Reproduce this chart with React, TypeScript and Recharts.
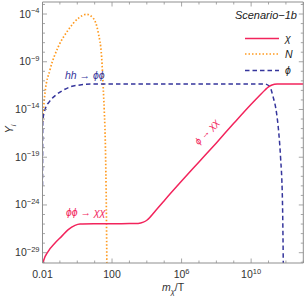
import React from 'react';
import { ComposedChart, Line, XAxis, YAxis } from 'recharts';

const W = 307;
const H = 296;
const FONT = '"Liberation Sans", Arial, sans-serif';
const FRAME = '#8f8f8f';
const LABEL = '#333333';
const RED = '#f2245c';
const ORANGE = '#ff9a1f';
const BLUE = '#35359c';

// chi (solid red): log10(m/T), log10(Y)
const chiLogX = [-2, -1.95, -1.67, -1.28, -0.9, -0.52, -0.13, 0.16, 1, 2, 3, 3.5, 3.8, 4.0, 4.2, 4.5, 5, 6, 7, 8, 9, 10, 10.5, 10.8, 11, 11.2, 11.5, 12, 13];
const chiLogY = [-30.3, -29.9, -28.86, -27.99, -27.29, -26.59, -26.14, -26.0, -25.97, -25.96, -25.95, -25.93, -25.8, -25.6, -25.25, -24.6, -23.55, -21.5, -19.5, -17.5, -15.45, -13.45, -12.5, -11.95, -11.62, -11.43, -11.34, -11.32, -11.32];

// N (orange dotted)
const nLogX = [-2, -1.86, -1.57, -1.09, -0.52, 0.06, 0.54, 0.92, 1.21, 1.4, 1.49, 1.55, 1.62, 1.67, 1.71];
const nLogY = [-15.3, -12.3, -9.86, -7.42, -5.67, -4.45, -4.03, -4.45, -6.0, -8.5, -11.6, -14.0, -18, -24, -32];

// phi (blue dashed)
const phiLogX = [-2, -1.985, -1.86, -1.57, -1.22, -0.88, -0.42, 0.16, 0.84, 2, 6, 10, 10.79, 11.07, 11.26, 11.46, 11.59, 11.69, 11.8, 11.86];
const phiLogY = [-22, -15.2, -14.04, -13.1, -12.47, -12.05, -11.64, -11.43, -11.33, -11.32, -11.32, -11.32, -11.33, -11.6, -12.65, -14.36, -16.45, -18.96, -23.5, -32];

const xTickExps = [-2, -1, 0, 1, 2, 3, 4, 5, 6, 7, 8, 9, 10, 11, 12, 13];
const xLabelExps = [-2, 2, 6, 10];
const yTickExps = [-30, -29, -28, -27, -26, -25, -24, -23, -22, -21, -20, -19, -18, -17, -16, -15, -14, -13, -12, -11, -10, -9, -8, -7, -6, -5, -4, -3];
const yLabelExps = [-29, -24, -19, -14, -9, -4];

const xDomainExp = [-2, 13];
const yDomainExp = [-30.08, -2.74];

const toData = (lx: number[], ly: number[]) => lx.map((v, i) => ({ x: Math.pow(10, v), y: Math.pow(10, ly[i]) }));
const chiData = toData(chiLogX, chiLogY);
const nData = toData(nLogX, nLogY);
const phiData = toData(phiLogX, phiLogY);

const xTicks = xTickExps.map((e) => Math.pow(10, e));
const yTicks = yTickExps.map((e) => Math.pow(10, e));
const xDomain = xDomainExp.map((e) => Math.pow(10, e));
const yDomain = yDomainExp.map((e) => Math.pow(10, e));

const ex = (v: number) => Math.round(Math.log10(v));
const minus = (e: number) => (e < 0 ? '\u2212' + Math.abs(e) : String(e));

const PowText = ({ x, y, e, anchor }: any) => (
  <text x={x} y={y} textAnchor={anchor} fill={LABEL} fontFamily={FONT} fontSize={10.5}>
    <tspan>10</tspan>
    <tspan dy={-4.5} fontSize={7.5}>{minus(e)}</tspan>
  </text>
);

const XTickBottom = (p: any) => {
  const { x, y, payload } = p;
  const e = ex(payload.value);
  const major = xLabelExps.includes(e);
  let label: any = null;
  if (major) {
    if (e === -2 || e === 2) {
      label = (
        <text x={x} y={y + 15} textAnchor="middle" fill={LABEL} fontFamily={FONT} fontSize={10.5}>
          {e === -2 ? '0.01' : '100'}
        </text>
      );
    } else {
      label = <PowText x={x} y={y + 15} e={e} anchor="middle" />;
    }
  }
  return (
    <g>
      <line x1={x} x2={x} y1={y} y2={y - (major ? 4.5 : 2.5)} stroke={FRAME} strokeWidth={0.8} />
      {label}
    </g>
  );
};

const XTickTop = (p: any) => {
  const { x, y, payload } = p;
  const major = xLabelExps.includes(ex(payload.value));
  return <line x1={x} x2={x} y1={y} y2={y + (major ? 4.5 : 2.5)} stroke={FRAME} strokeWidth={0.8} />;
};

const YTickLeft = (p: any) => {
  const { x, y, payload } = p;
  const e = ex(payload.value);
  const major = yLabelExps.includes(e);
  return (
    <g>
      <line x1={x} x2={x + (major ? 4.5 : 2.5)} y1={y} y2={y} stroke={FRAME} strokeWidth={0.8} />
      {major ? <PowText x={x - 3} y={y + 3.5} e={e} anchor="end" /> : null}
    </g>
  );
};

const YTickRight = (p: any) => {
  const { x, y, payload } = p;
  const major = yLabelExps.includes(ex(payload.value));
  return <line x1={x} x2={x - (major ? 4.5 : 2.5)} y1={y} y2={y} stroke={FRAME} strokeWidth={0.8} />;
};

const legendItems = [
  { name: '\u03C7', color: RED, dash: undefined as any, width: 1.5 },
  { name: 'N', color: ORANGE, dash: '1.5 2', width: 1.7 },
  { name: '\u03D5', color: BLUE, dash: '4.5 3', width: 1.5 },
];

export default function App() {
  return (
    <div style={{ position: 'absolute', left: 0, top: 0, width: W, height: H, background: '#fff' }}>
      <ComposedChart width={W} height={H} margin={{ top: 1, right: 2.7, bottom: 3, left: 0 }}>
        <XAxis
          xAxisId="b"
          dataKey="x"
          type="number"
          scale="log"
          domain={xDomain}
          allowDataOverflow
          ticks={xTicks}
          interval={0}
          height={30}
          tickSize={0}
          tickMargin={0}
          tickLine={false}
          axisLine={{ stroke: FRAME }}
          tick={<XTickBottom />}
        />
        <XAxis
          xAxisId="t"
          orientation="top"
          dataKey="x"
          type="number"
          scale="log"
          domain={xDomain}
          allowDataOverflow
          ticks={xTicks}
          interval={0}
          height={1}
          tickSize={0}
          tickMargin={0}
          tickLine={false}
          axisLine={{ stroke: FRAME }}
          tick={<XTickTop />}
        />
        <YAxis
          yAxisId="l"
          type="number"
          scale="log"
          domain={yDomain}
          allowDataOverflow
          ticks={yTicks}
          interval={0}
          width={42.5}
          tickSize={0}
          tickMargin={0}
          tickLine={false}
          axisLine={{ stroke: FRAME }}
          tick={<YTickLeft />}
        />
        <YAxis
          yAxisId="r"
          orientation="right"
          type="number"
          scale="log"
          domain={yDomain}
          allowDataOverflow
          ticks={yTicks}
          interval={0}
          width={1}
          tickSize={0}
          tickMargin={0}
          tickLine={false}
          axisLine={{ stroke: FRAME }}
          tick={<YTickRight />}
        />
        <Line xAxisId="b" yAxisId="l" data={nData} dataKey="y" name="N" type="monotone" stroke={ORANGE} strokeWidth={1.7} strokeDasharray="1.5 2" dot={false} activeDot={false} isAnimationActive={false} />
        <Line xAxisId="b" yAxisId="l" data={phiData} dataKey="y" name="phi" type="monotone" stroke={BLUE} strokeWidth={1.5} strokeDasharray="4.5 3" dot={false} activeDot={false} isAnimationActive={false} />
        <Line xAxisId="b" yAxisId="l" data={chiData} dataKey="y" name="chi" type="monotone" stroke={RED} strokeWidth={1.5} dot={false} activeDot={false} isAnimationActive={false} />
      </ComposedChart>
      <svg width={W} height={H} style={{ position: 'absolute', left: 0, top: 0, pointerEvents: 'none' }} fontFamily={FONT}>
        <text x={13} y={129} transform="rotate(-90 13 129)" textAnchor="middle" fontSize={10.5} fill={LABEL} fontStyle="italic">
          <tspan>Y</tspan>
          <tspan dy={2.5} fontSize={7.5}>i</tspan>
        </text>
        <text x={173} y={291} textAnchor="middle" fontSize={10.5} fill={LABEL}>
          <tspan fontStyle="italic">m</tspan>
          <tspan dy={2.5} fontSize={7.5} fontStyle="italic">{'\u03C7'}</tspan>
          <tspan dy={-2.5}>/T</tspan>
        </text>
        <text x={297} y={19} textAnchor="end" fontSize={11} fill="#222" fontStyle="italic">Scenario{'\u2212'}1b</text>
        {legendItems.map((it, i) => {
          const ly = [38.5, 54, 70.5][i];
          return (
            <g key={it.name}>
              <line x1={245} x2={279} y1={ly} y2={ly} stroke={it.color} strokeWidth={it.width} strokeDasharray={it.dash} />
              <text x={285} y={ly + 3.5} fontSize={10.5} fill="#222" fontStyle="italic">{it.name}</text>
            </g>
          );
        })}
        <text x={65} y={79} fontSize={10.5} fill={BLUE} fontStyle="italic">hh {'\u2192'} {'\u03D5\u03D5'}</text>
        <text x={66} y={216} fontSize={10.5} fill={RED} fontStyle="italic">{'\u03D5\u03D5'} {'\u2192'} {'\u03C7\u03C7'}</text>
        <text x={209} y={134} transform="rotate(-48 209 134)" textAnchor="middle" fontSize={9.5} fill={RED} fontStyle="italic">{'\u03D5'} {'\u2192'} {'\u03C7\u03C7'}</text>
      </svg>
    </div>
  );
}
